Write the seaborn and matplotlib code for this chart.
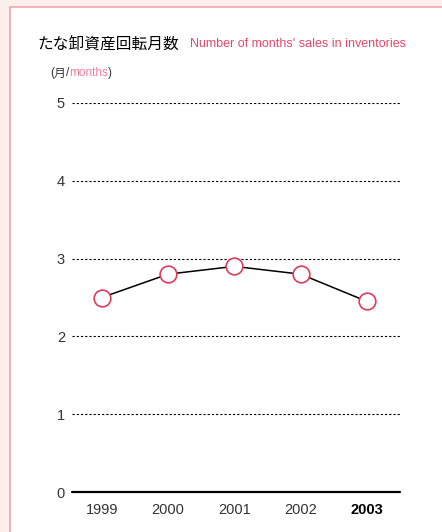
import matplotlib
matplotlib.use("Agg")
import matplotlib.pyplot as plt
from matplotlib.patches import Rectangle
import seaborn as sns
import pandas as pd

# data
years = ["1999", "2000", "2001", "2002", "2003"]
months = [2.5, 2.8, 2.9, 2.8, 2.45]
yticks = [0, 1, 2, 3, 4, 5]

df = pd.DataFrame({"year": years, "months": months})

sns.set_theme(style="white")
plt.rcParams['font.family'] = ['Liberation Sans', 'Noto Sans CJK JP']

fig = plt.figure(figsize=(4.42, 5.32), dpi=100)
fig.patch.set_facecolor("#fdeeee")
# white card with pink border
card = Rectangle((10/442, -0.1), 1.2, (532-7)/532 + 0.1, transform=fig.transFigure,
                 facecolor="white", edgecolor="#f3a3aa", linewidth=1.2, zorder=-5)
fig.patches.append(card)

ax = fig.add_axes([72/442, 40/532, 328/442, 389/532])
ax.set_facecolor("none")
ax.set_zorder(2)

sns.lineplot(data=df, x="year", y="months", ax=ax, color="black", linewidth=1.1,
             marker="o", markersize=12, markerfacecolor="white",
             markeredgecolor="#e23a5c", markeredgewidth=1.2, zorder=5, clip_on=False)

ax.set_xlim(-0.45, 4.5)
ax.set_ylim(0, 5)
ax.set_yticks(yticks)
for t in yticks[1:]:
    ax.axhline(t, color="black", linestyle=(0, (2.0, 1.8)), linewidth=0.8, zorder=1)
ax.axhline(0, color="black", linewidth=1.6, zorder=2, clip_on=False)

for s in ax.spines.values():
    s.set_visible(False)
ax.set_xlabel("")
ax.set_ylabel("")
ax.tick_params(axis="both", length=0, labelsize=10.5, colors="#333333", pad=5)
ax.tick_params(axis="x", pad=8)
for lab in ax.get_xticklabels():
    if lab.get_text() == "2003":
        lab.set_fontweight("bold")
        lab.set_color("black")

fig.text(37/442, 1 - 44/532, "たな卸資産回転月数", fontsize=11.3, color="black",
         va="center", family=['Noto Sans CJK JP', 'DejaVu Sans'])
fig.text(190/442, 1 - 44/532, "Number of months' sales in inventories", fontsize=9.0,
         color="#e5486a", va="center")

# units label built piece by piece
r = fig.canvas.get_renderer()
x = 50
parts = [("(", "#333333"), ("月", "#333333"), ("/", "#333333"),
         ("months", "#ee7f9b"), (")", "#333333")]
for s, c in parts:
    t = fig.text(x/442, 1 - 73/532, s, fontsize=8.5, color=c, va="center",
                 family=['Noto Sans CJK JP'] if s == "月" else ['Liberation Sans'])
    x += t.get_window_extent(r).width

fig.savefig("out.png", dpi=100, facecolor=fig.get_facecolor())
